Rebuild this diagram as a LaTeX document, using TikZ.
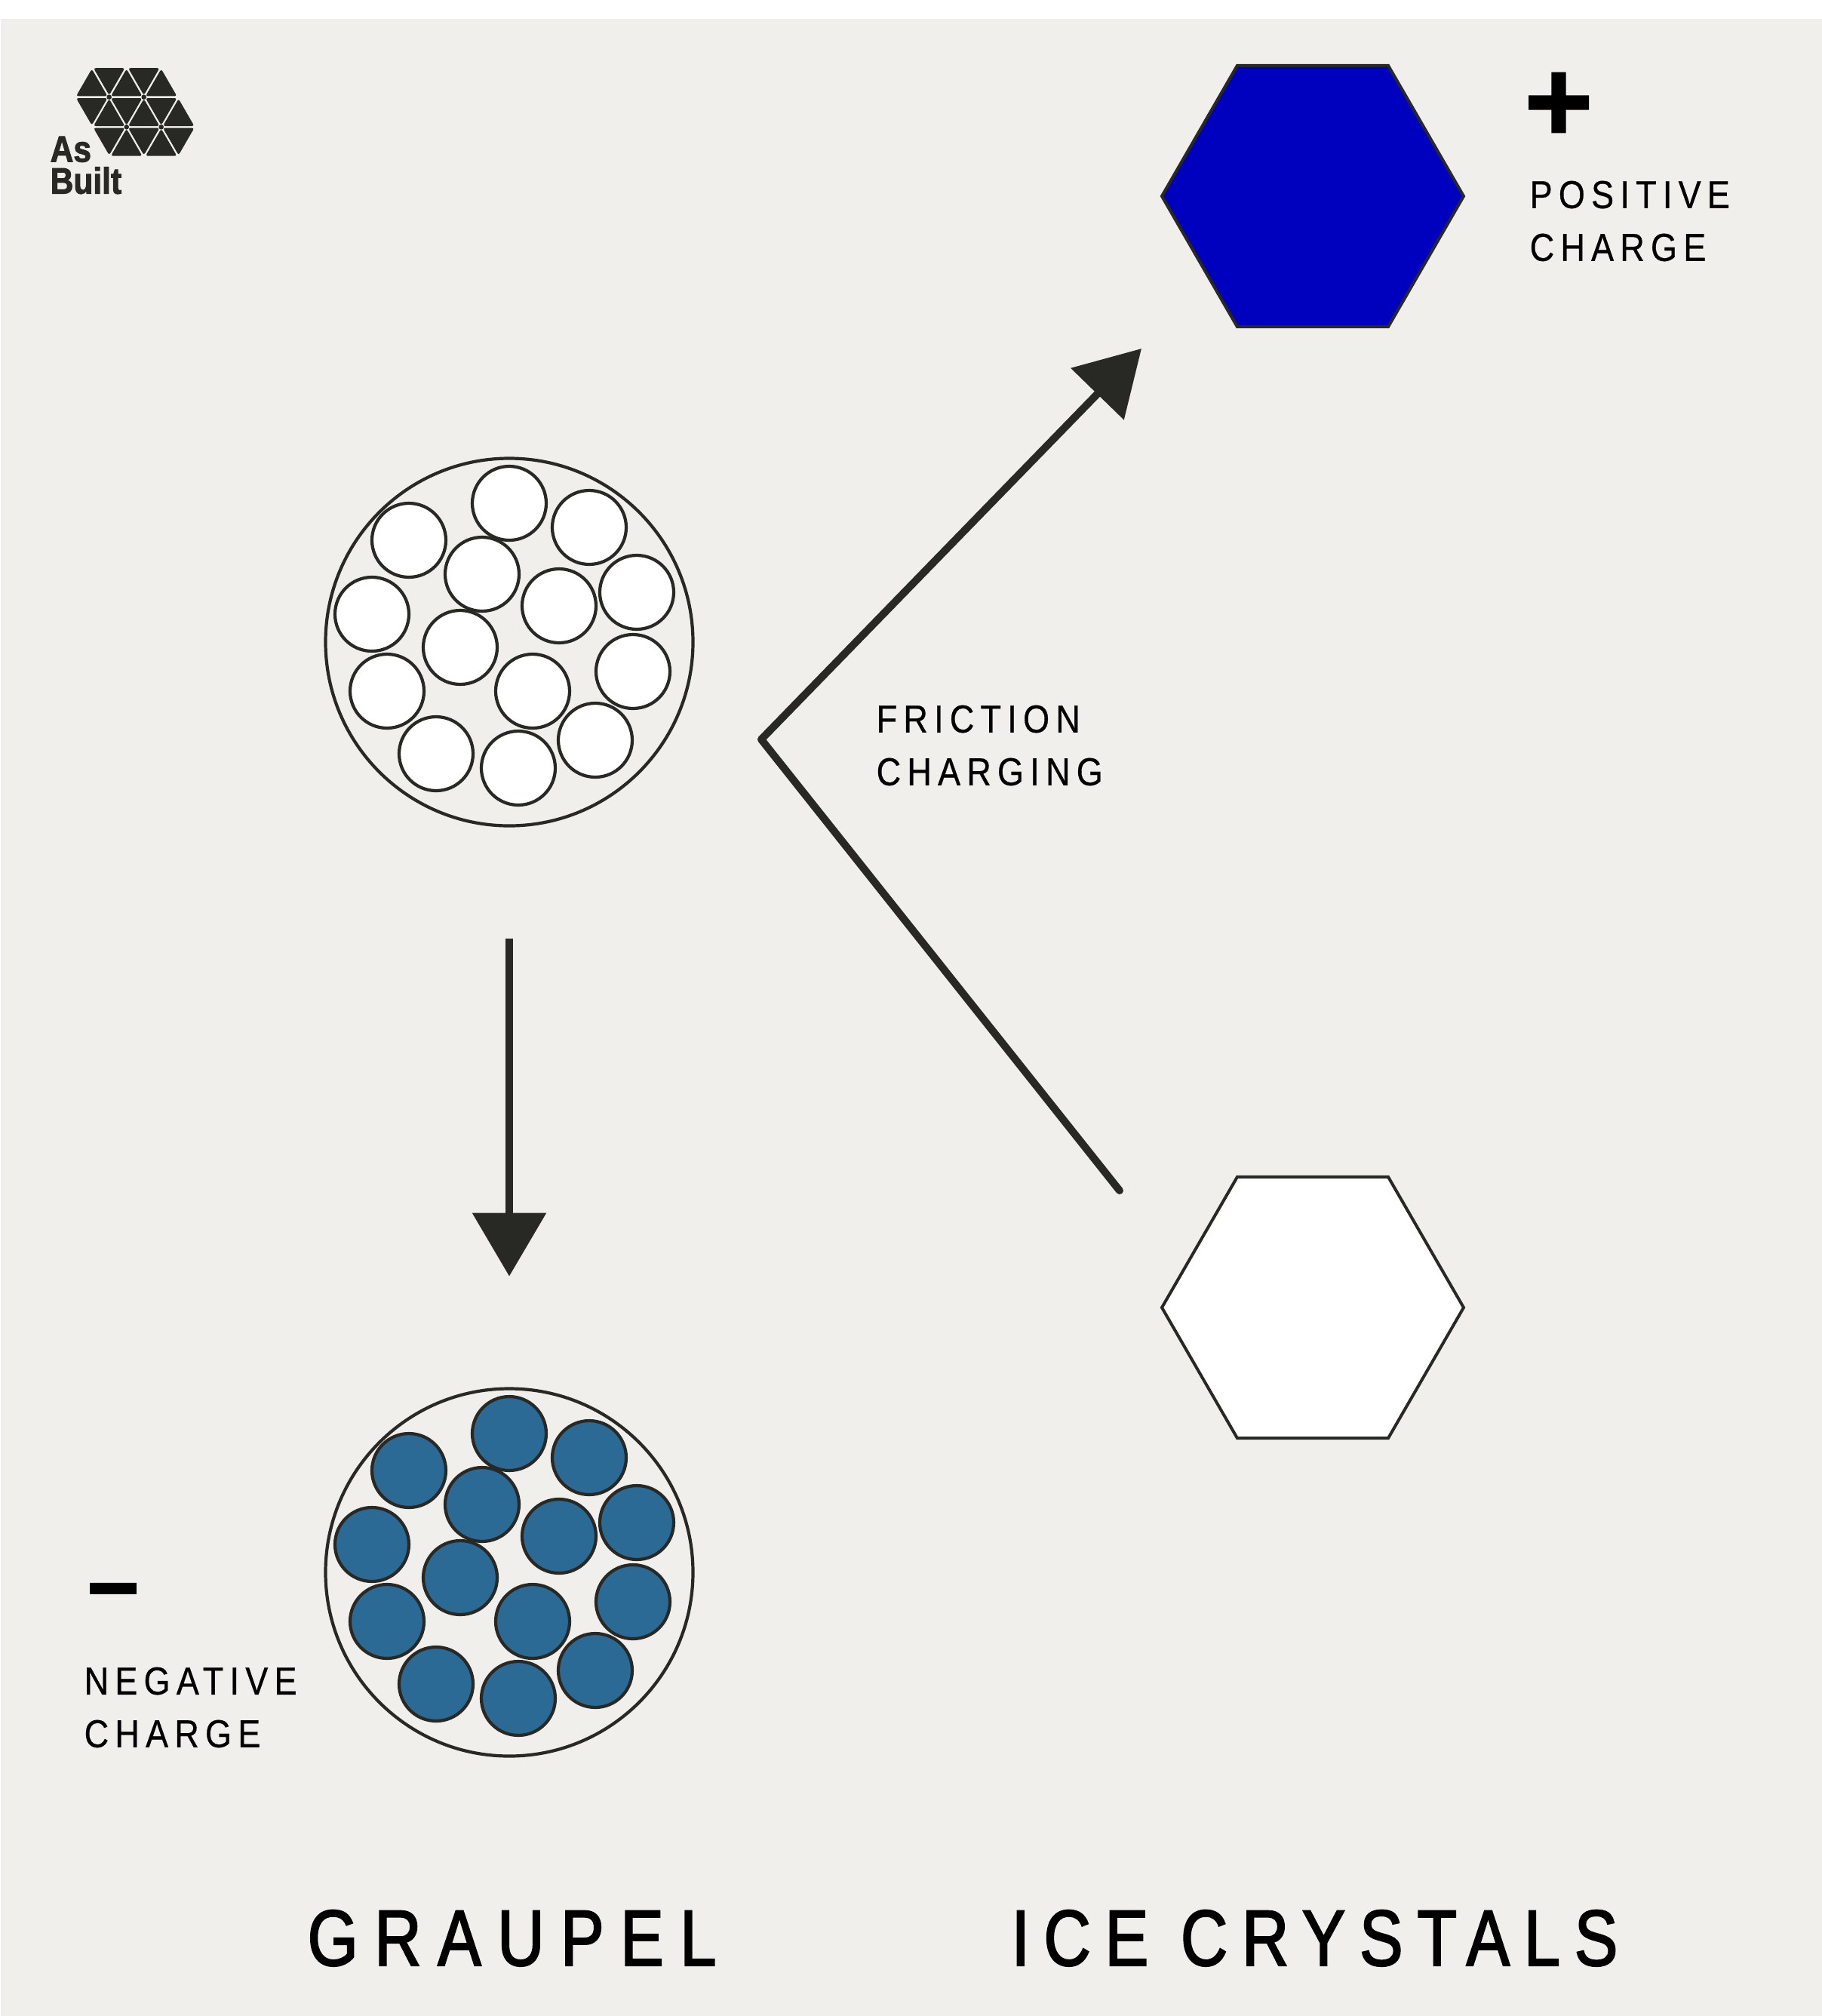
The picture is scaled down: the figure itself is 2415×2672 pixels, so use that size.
\documentclass[tikz,border=0pt]{standalone}
\usepackage{fontspec}
\usetikzlibrary{arrows.meta, positioning, shapes.geometric, calc}
\newfontfamily\chargefont[LetterSpace=16,FakeStretch=.87,FakeBold=0.6]{Liberation Sans}
\newfontfamily\titlefont[LetterSpace=20.6,FakeStretch=.82,FakeBold=2]{Liberation Sans}
\newfontfamily\icefont[LetterSpace=18,FakeStretch=.82,FakeBold=2]{Liberation Sans}
\newfontfamily\logofont[FakeStretch=.87,FakeBold=2]{Liberation Sans}
\newfontfamily\signfont[FakeBold=1.5]{Liberation Sans}
\definecolor{paper}{HTML}{F0EFEB}
\definecolor{ink}{HTML}{282825}
\definecolor{chargedblue}{HTML}{0000BF}
\definecolor{beadblue}{HTML}{2B6A94}

\begin{document}
\begin{tikzpicture}[
            x=0.1mm, y=-0.1mm,
            grain/.style={draw=ink, circle, line width=0.42mm, minimum size=48.7mm, inner sep=0pt, outer sep=0pt},
            bead/.style={draw=ink, circle, line width=0.42mm, minimum size=9.8mm, inner sep=0pt, outer sep=0pt},
            crystal/.style={draw=ink, regular polygon, regular polygon sides=6, line width=0.4mm, minimum size=40mm, inner sep=0pt, outer sep=0pt},
            arrow/.style={line width=1mm, color=ink, -{Triangle[length=8.4mm, width=9.6mm]}},
            chargelabel/.style={anchor=west, align=left, inner sep=0pt, font=\chargefont\fontsize{14.7}{19.9}\selectfont},
            titlelabel/.style={anchor=base west, inner sep=0pt, font=\titlefont\fontsize{29.9}{32}\selectfont},
            signlabel/.style={inner sep=0pt, font=\signfont\bfseries\fontsize{44}{44}\selectfont},
            logotri/.style={fill=ink, rounded corners=0.3mm}
        ]
        \useasboundingbox (0,0) rectangle (2415,2672);
        \fill[paper] (1,25) rectangle (2415,2672);

        % --- logo ---
        \foreach \cx/\cy/\s in {121.7/115.4/1, 144.7/102.2/-1, 167.7/115.4/1, 190.7/102.2/-1, 213.7/115.4/1,
                121.7/142/-1, 144.7/155/1, 167.7/142/-1, 190.7/155/1, 213.7/142/-1, 236.7/155/1,
                144.7/181.6/-1, 167.7/194.7/1, 190.7/181.6/-1, 213.7/194.7/1, 236.7/181.6/-1}
            \fill[logotri] ({\cx},{\cy-24*\s}) -- ({\cx+20.8},{\cy+12*\s}) -- ({\cx-20.8},{\cy+12*\s}) -- cycle;
        \foreach \cx/\cy in {144.7/128.7, 190.7/128.7, 167.7/168.3, 213.7/168.3}
            \fill[ink] (\cx,\cy) circle (0.33mm);
        \node[anchor=west, align=left, inner sep=0pt, text=ink, font=\logofont\bfseries\fontsize{13.9}{12}\selectfont] (logoText) at (66,219) {As\\Built};

        % --- graupel ---
        \foreach \gname/\gy/\gcol in {clear/851/white, charged/2084/beadblue} {
            \node[grain] (grain\gname) at (675,\gy) {};
            \foreach \dx/\dy [count=\i] in {0/-184, 106/-152, -133/-135, -36/-90, 66/-48, 169/-66, -182/-37,
                    -65/7, 31/65, 164/39, -162/65, 114/130, -97/148, 12/167}
                \node[bead, fill=\gcol] (bead\gname\i) at ($(grain\gname)+(\dx,\dy)$) {};
        }
        \draw[arrow, shorten <=14.9mm, shorten >=14.9mm] (grainclear)--(graincharged);

        % --- ice crystals ---
        \node[crystal, fill=chargedblue] (iceTop) at (1740,260) {};
        \node[crystal, fill=white] (iceBottom) at (1740,1733) {};
        \coordinate (kink) at (1009,980);
        \coordinate (frictionEnd) at (1484,1578);
        \coordinate (frictionTip) at (1513,462);
        \draw[arrow, line join=round, line cap=round] (frictionEnd)--(kink)--(frictionTip);

        % --- labels ---
        \node[signlabel] (plusSign) at (2066,142) {+};
        \node[signlabel, font=\signfont\bfseries\fontsize{34}{34}\selectfont] (minusSign) at (150,2122) {−};
        \node[chargelabel] (positiveLabel) at (2027,293) {POSITIVE\\CHARGE};
        \node[chargelabel] (negativeLabel) at (111,2263) {NEGATIVE\\CHARGE};
        \node[chargelabel] (frictionLabel) at (1161,988) {FRICTION\\CHARGING};
        \node[titlelabel] (graupelLabel) at (407,2605) {GRAUPEL};
        \node[titlelabel, font=\icefont\fontsize{29.9}{32}\selectfont] (iceLabel) at (1340,2605) {ICE CRYSTALS};
        \end{tikzpicture}
\end{document}
